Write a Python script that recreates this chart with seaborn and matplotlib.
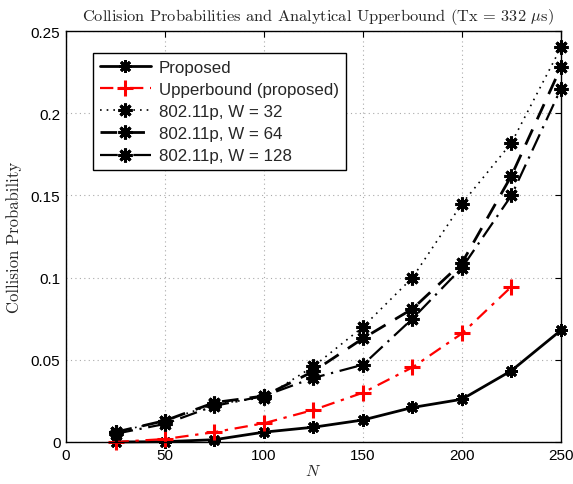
import matplotlib
matplotlib.use("Agg")
import matplotlib.pyplot as plt
from matplotlib.lines import Line2D
import seaborn as sns
import pandas as pd

# ---- data ----
N = [25, 50, 75, 100, 125, 150, 175, 200, 225, 250]
N_ub = [25, 50, 75, 100, 125, 150, 175, 200, 225]
proposed = [0.0, 0.0002, 0.0014, 0.006, 0.009, 0.0134, 0.021, 0.026, 0.0434, 0.068]
upperbound = [0.0, 0.0018, 0.006, 0.0114, 0.0195, 0.030, 0.0454, 0.066, 0.0945]
w32 = [0.006, 0.013, 0.023, 0.027, 0.046, 0.070, 0.100, 0.145, 0.182, 0.240]
w64 = [0.006, 0.013, 0.024, 0.028, 0.043, 0.063, 0.081, 0.109, 0.162, 0.228]
w128 = [0.005, 0.011, 0.022, 0.028, 0.039, 0.047, 0.075, 0.106, 0.150, 0.215]
labels = ["Proposed", "Upperbound (proposed)", "802.11p, W = 32",
          "802.11p, W = 64", "802.11p, W = 128"]
xticks = [0, 50, 100, 150, 200, 250]
yticks = [0, 0.05, 0.1, 0.15, 0.2, 0.25]
ytick_labels = ["0", "0.05", "0.1", "0.15", "0.2", "0.25"]

sns.set_style("white")
plt.rcParams['font.family'] = ['Liberation Sans', 'DejaVu Sans']
plt.rcParams['mathtext.fontset'] = 'cm'

fig = plt.figure(figsize=(5.73, 4.85), dpi=100)
ax = fig.add_axes([0.1152, 0.0866, 0.8638, 0.8474])

ast = (8, 2, 0)
styles = [
    dict(color="black", linestyle="-", linewidth=2.0, marker=ast,
         markersize=9, markeredgewidth=2.0),
    dict(color="red", linestyle=(0, (6, 3, 1.5, 3)), linewidth=1.6, marker="+",
         markersize=11, markeredgewidth=2.2),
    dict(color="black", linestyle=(0, (1, 3)), linewidth=1.2, marker=ast,
         markersize=10, markeredgewidth=2.2),
    dict(color="black", linestyle=(0, (6, 4)), linewidth=2.0, marker=ast,
         markersize=10, markeredgewidth=2.2),
    dict(color="black", linestyle=(0, (8, 3, 1, 3)), linewidth=1.6, marker=ast,
         markersize=10, markeredgewidth=2.2),
]
data = [(N, proposed), (N_ub, upperbound), (N, w32), (N, w64), (N, w128)]

handles = []
for (xs, ys), st, lab in zip(data, styles, labels):
    df = pd.DataFrame({"N": xs, "P": ys})
    sns.lineplot(data=df, x="N", y="P", ax=ax, color=st["color"], legend=False)
    line = ax.lines[-1]
    line.set(**st)
    line.set_clip_on(False)
    line.set_markerfacecolor(st["color"])
    line.set_markeredgecolor(st["color"])
    handles.append(Line2D([], [], markerfacecolor=st["color"],
                          markeredgecolor=st["color"], **st))

ax.set_xlim(0, 250)
ax.set_ylim(0, 0.25)
ax.set_xticks(xticks)
ax.set_yticks(yticks)
ax.set_yticklabels(ytick_labels)
ax.tick_params(direction="in", top=True, right=True, labelsize=11, length=4,
               width=0.8, colors="black", pad=4)
ax.grid(True, linestyle=(0, (1, 3)), color="#aaaaaa", lw=0.8)
for s in ax.spines.values():
    s.set_color("black")
    s.set_linewidth(1.0)

ax.set_xlabel("$N$", fontsize=11.5, labelpad=1)
ax.set_ylabel("Collision Probability", family="cmr10", fontsize=12, labelpad=6)
ax.set_title(r"Collision Probabilities and Analytical Upperbound (Tx = 332 $\mu$s)",
             family="cmr10", fontsize=11.8, pad=8, x=0.51)

leg = ax.legend(handles, labels, loc="upper left", bbox_to_anchor=(0.0545, 0.946),
                borderaxespad=0, fontsize=12.2, frameon=True, fancybox=False,
                framealpha=1, edgecolor="black", handlelength=3.0, borderpad=0.4,
                labelspacing=0.42, handletextpad=0.5)
leg.get_frame().set_linewidth(1.0)

fig.savefig("out.png", dpi=100)
